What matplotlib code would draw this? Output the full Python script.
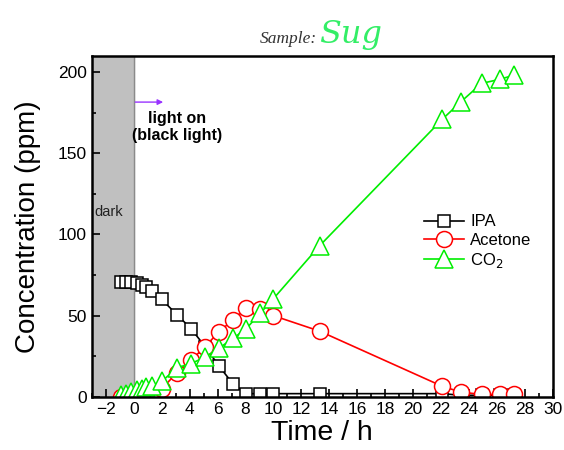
import matplotlib
matplotlib.use('Agg')
import matplotlib.pyplot as plt
from matplotlib.ticker import MultipleLocator

plt.rcParams['font.family'] = ['Liberation Sans', 'DejaVu Sans']

# sampling times (h) and concentrations (ppm)
time = [-0.9, -0.55, -0.2, 0.2, 0.55, 0.9, 1.3, 2.0, 3.1, 4.1, 5.1, 6.1,
        7.1, 8.05, 9.05, 10.0, 13.3, 22.1, 23.4, 24.9, 26.2, 27.2]
ipa = [71, 71, 71, 70, 69, 67.5, 65, 60, 50.5, 42, 31, 19,
       8, 2, 2, 2, 2, 2, 1, 1, 1, 1]
acetone = [0, 0, 0, 0, 0.5, 1, 2, 5, 15, 22.5, 31, 40,
           47.5, 54.5, 54, 50, 40.5, 6.5, 3, 1.5, 1.5, 1.5]
co2 = [1, 2, 3, 4, 5, 6, 7, 9.5, 18, 20.5, 24.5, 30,
       36, 42, 51.5, 60.5, 93, 171, 181.5, 193, 195.5, 198]

xticks = list(range(-2, 31, 2))
yticks = [0, 50, 100, 150, 200]

fig = plt.figure(figsize=(5.64, 4.5), dpi=100)
ax = fig.add_axes([0.163, 0.118, 0.817, 0.758])

# dark period
ax.axvspan(-3, 0, color='#c0c0c0', zorder=0)
ax.axvline(0, color='#8a8a8a', lw=1, zorder=0.5)
ax.text(-2.8, 114, 'dark', fontsize=10.5, color='#222222', va='center')

ax.plot(time, ipa, '-s', color='black', mfc='white', ms=9.2, mew=1.1,
        lw=1.2, label='IPA')
ax.plot(time, acetone, '-o', color='red', mfc='white', ms=11.5, mew=1.1,
        lw=1.2, label='Acetone')
ax.plot(time, co2, '-^', color='#00ee00', mfc='white', ms=12.5, mew=1.1,
        lw=1.2, label='CO$_2$')

# light on arrow
ax.annotate('', xy=(2.3, 181.5), xytext=(-0.1, 181.5),
            arrowprops=dict(arrowstyle='-|>', color='#9933ff', lw=1,
                            mutation_scale=8))
ax.text(3.1, 166, 'light on\n(black light)', fontsize=11.5, fontweight='bold',
        ha='center', va='center', linespacing=1.2)

ax.set_xlim(-3, 30)
ax.set_ylim(0, 210)
ax.set_xticks(xticks)
ax.set_yticks(yticks)
ax.xaxis.set_minor_locator(MultipleLocator(1))
ax.yaxis.set_minor_locator(MultipleLocator(25))
ax.tick_params(which='both', direction='in', top=False, right=False,
               labelsize=12.5, width=1.2)
ax.tick_params(which='major', length=6)
ax.tick_params(which='minor', length=3)
for s in ax.spines.values():
    s.set_linewidth(1.8)

ax.set_xlabel('Time / h', fontsize=20.5, labelpad=2)
ax.set_ylabel('Concentration (ppm)', fontsize=20, labelpad=12)

ax.legend(loc='upper left', bbox_to_anchor=(0.72, 0.535), frameon=False,
          fontsize=12, handlelength=2.4, handletextpad=0.4,
          labelspacing=0.2, borderpad=0, borderaxespad=0)

fig.text(0.562, 0.905, 'Sample:', fontsize=12.5, style='italic',
         family='Liberation Serif', color='#333333', ha='right', va='baseline')
fig.text(0.565, 0.905, 'Sug', fontsize=23, style='italic',
         family='DejaVu Serif', color='#33ee66', ha='left', va='baseline')

fig.savefig('out.png', dpi=100)
